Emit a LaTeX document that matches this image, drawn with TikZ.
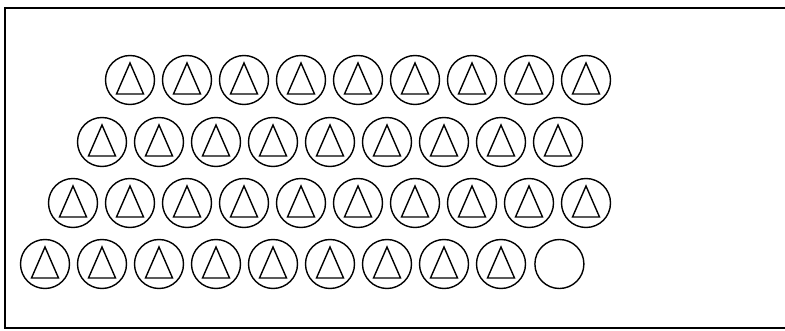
\documentclass[tikz,border=0pt]{standalone}
\usetikzlibrary{calc,positioning}

\begin{document}
\begin{tikzpicture}[x=1pt, y=-1pt, line width=1.4pt,
  cell/.style={circle, draw, minimum size=49pt, inner sep=0pt},
  tcell/.style={cell, path picture={
    \draw[line width=1.4pt, line join=miter]
      ($(path picture bounding box.center)+(0pt,17pt)$) -- ++(13.5pt,-31pt) -- ++(-27pt,0pt) -- cycle;}}]
  \useasboundingbox (0,0) rectangle (785,331);
  % frame, open on the right
  \draw[line width=1.6pt] (785,8) -- (5,8) -- (5,328) -- (785,328);
  % rows of cells: row / first x / count / y
  \foreach \row/\xs/\n/\y in {1/130/9/80, 2/102/9/142, 3/73/10/203, 4/45/9/264} {
    \foreach \i in {1,...,\n}
      \node[tcell] (c\row-\i) at ({\xs+(\i-1)*57},\y) {};
  }
  % the empty cell
  \node[cell, right=8pt of c4-9] (c4-10) {};
\end{tikzpicture}
\end{document}
